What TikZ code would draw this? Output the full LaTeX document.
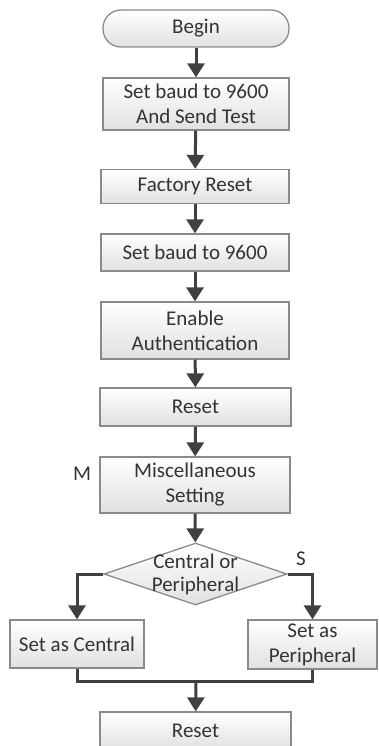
\documentclass[tikz,border=0pt]{standalone}
\usepackage{fontspec}
\setmainfont{Carlito}
\usetikzlibrary{arrows.meta,shapes.geometric,calc}
\definecolor{linec}{HTML}{404040}
\definecolor{edgec}{HTML}{8A8A8A}
\definecolor{txtc}{HTML}{333333}
\tikzset{
  box/.style={draw=edgec, line width=1.3pt, top color=white, bottom color=black!12,
    inner sep=0pt, align=center, text=txtc, font=\fontsize{21}{25}\selectfont},
  flow/.style={draw=linec, line width=3pt, -{Triangle[length=14pt,width=17pt]}},
  plainline/.style={draw=linec, line width=3pt},
  lab/.style={text=txtc, font=\fontsize{21}{25}\selectfont}
}
\begin{document}
\begin{tikzpicture}[x=1pt,y=-1pt]
\useasboundingbox (0,0) rectangle (378,746);
\clip (0,0) rectangle (378,746);
\node[box, minimum width=186pt, minimum height=37pt, rounded corners=18pt] (begin) at (196,28.5) {Begin};
\node[box, minimum width=186pt, minimum height=52pt] (b1) at (196,104) {Set baud to 9600\\And Send Test};
\node[box, minimum width=188pt, minimum height=34pt] (fr) at (195,186.5) {Factory Reset};
\node[box, minimum width=188pt, minimum height=37pt] (sb) at (195,252.5) {Set baud to 9600};
\node[box, minimum width=188pt, minimum height=57pt] (ea) at (195,330.5) {Enable\\Authentication};
\node[box, minimum width=191pt, minimum height=38pt] (r1) at (195.5,407) {Reset};
\node[box, minimum width=190pt, minimum height=56pt] (ms) at (195,485) {Miscellaneous\\Setting};
\node[box, diamond, minimum width=183pt, minimum height=62pt,
  label={[align=center, text=txtc, font=\fontsize{21}{23}\selectfont]center:Central or\\Peripheral}] (cp) at (195.5,574) {};
\node[box, minimum width=134pt, minimum height=48pt] (sc) at (77,644) {Set as Central};
\node[box, minimum width=129pt, minimum height=49pt] (sp) at (312.5,644.5) {Set as\\Peripheral};
\node[box, minimum width=191pt, minimum height=38pt] (r2) at (195.5,731) {Reset};
\node[lab] (m) at (82,474) {M};
\node[lab] (s) at (301,559) {S};
\coordinate (mg) at (196,681);
\draw[flow] (begin) -- (b1);
\draw[flow] (b1) -- (fr);
\draw[flow] (fr) -- (sb);
\draw[flow] (sb) -- (ea);
\draw[flow] (ea) -- (r1);
\draw[flow] (r1) -- (ms);
\draw[flow] (ms) -- (cp);
\draw[flow] (cp.west) -| (sc.north);
\draw[flow] (cp.east) -| (sp.north);
\draw[plainline] (sc.south) |- (mg);
\draw[plainline] (sp.south) |- (mg);
\draw[flow] (mg) -- (r2);
\end{tikzpicture}
\end{document}
